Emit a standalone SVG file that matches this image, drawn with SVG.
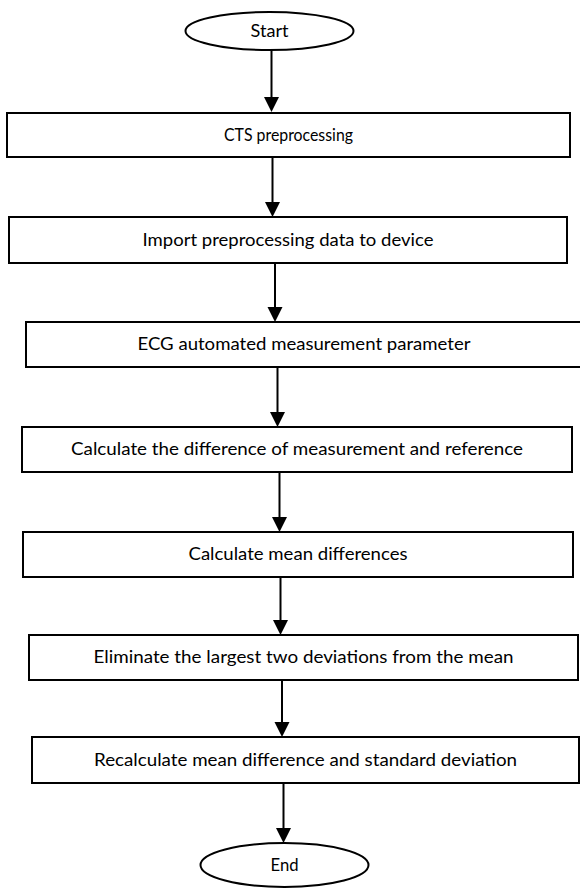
<svg xmlns="http://www.w3.org/2000/svg" width="580" height="888" viewBox="0 0 580 888">
<style>
.box{fill:#fff;stroke:#000;stroke-width:2}
.t{font-family:Lato,"Open Sans","Liberation Sans",sans-serif;font-size:16.5px;fill:#000;text-anchor:middle}
.c{stroke:#000;stroke-width:2;fill:none}
.h{fill:#000}
</style>
<rect width="580" height="888" fill="#fff"/>
<g id="connectors">
<line class="c" x1="271.5" y1="50" x2="271.5" y2="100"/>
<path class="h" d="M264,97 L279,97 L271.5,112 Z"/>
<line class="c" x1="272.5" y1="157" x2="272.5" y2="205"/>
<path class="h" d="M265,202 L280,202 L272.5,217 Z"/>
<line class="c" x1="275" y1="263" x2="275" y2="310"/>
<path class="h" d="M267.5,307 L282.5,307 L275,322 Z"/>
<line class="c" x1="277.5" y1="367" x2="277.5" y2="415"/>
<path class="h" d="M270,412 L285,412 L277.5,427 Z"/>
<line class="c" x1="279.5" y1="472" x2="279.5" y2="520"/>
<path class="h" d="M272,517 L287,517 L279.5,532 Z"/>
<line class="c" x1="280.5" y1="577" x2="280.5" y2="623"/>
<path class="h" d="M273,620 L288,620 L280.5,635 Z"/>
<line class="c" x1="282" y1="680" x2="282" y2="725"/>
<path class="h" d="M274.5,722 L289.5,722 L282,737 Z"/>
<line class="c" x1="283.5" y1="783" x2="283.5" y2="831"/>
<path class="h" d="M276,828 L291,828 L283.5,843 Z"/>
</g>
<g id="start">
<ellipse class="box" cx="269.5" cy="31" rx="84" ry="19"/>
<text class="t" x="269.5" y="37" textLength="38" lengthAdjust="spacingAndGlyphs">Start</text>
</g>
<g id="n1">
<rect class="box" x="7" y="113" width="563" height="44"/>
<text class="t" x="288.5" y="141" textLength="129" lengthAdjust="spacingAndGlyphs">CTS preprocessing</text>
</g>
<g id="n2">
<rect class="box" x="9" y="217" width="558" height="46"/>
<text class="t" x="288" y="246" textLength="291" lengthAdjust="spacingAndGlyphs">Import preprocessing data to device</text>
</g>
<g id="n3">
<rect class="box" x="26" y="322" width="556" height="45"/>
<text class="t" x="304" y="350" textLength="333" lengthAdjust="spacingAndGlyphs">ECG automated measurement parameter</text>
</g>
<g id="n4">
<rect class="box" x="22" y="427" width="550" height="45"/>
<text class="t" x="297" y="455" textLength="452" lengthAdjust="spacingAndGlyphs">Calculate the difference of measurement and reference</text>
</g>
<g id="n5">
<rect class="box" x="23" y="532" width="550" height="45"/>
<text class="t" x="298" y="560" textLength="219" lengthAdjust="spacingAndGlyphs">Calculate mean differences</text>
</g>
<g id="n6">
<rect class="box" x="29" y="635" width="549" height="45"/>
<text class="t" x="303.5" y="663" textLength="420" lengthAdjust="spacingAndGlyphs">Eliminate the largest two deviations from the mean</text>
</g>
<g id="n7">
<rect class="box" x="32" y="737" width="547" height="46"/>
<text class="t" x="305.5" y="766" textLength="423" lengthAdjust="spacingAndGlyphs">Recalculate mean difference and standard deviation</text>
</g>
<g id="end">
<ellipse class="box" cx="284.5" cy="865" rx="84" ry="22"/>
<text class="t" x="284.5" y="871" textLength="28" lengthAdjust="spacingAndGlyphs">End</text>
</g>
</svg>
